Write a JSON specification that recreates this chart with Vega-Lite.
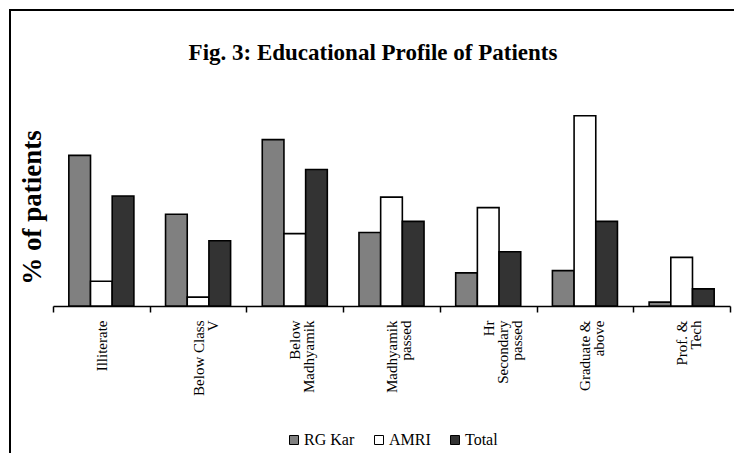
{
  "$schema": "https://vega.github.io/schema/vega-lite/v6.json",
  "autosize": {"type": "none"},
  "padding": {"left": 10, "top": 10, "right": -6, "bottom": -6},
  "width": 730,
  "height": 449,
  "background": "white",
  "title": {
    "text": "Fig. 3: Educational Profile of Patients",
    "font": "Liberation Serif",
    "fontSize": 23,
    "fontWeight": "bold",
    "color": "black",
    "anchor": "middle",
    "frame": "group",
    "baseline": "alphabetic",
    "offset": -73,
    "dx": -2
  },
  "data": {
    "values": [
      {"level": "Illiterate", "site": "RG Kar", "pct": 27.25},
      {"level": "Illiterate", "site": "AMRI", "pct": 4.47},
      {"level": "Illiterate", "site": "Total", "pct": 19.9},
      {"level": "Below Class V", "site": "RG Kar", "pct": 16.6},
      {"level": "Below Class V", "site": "AMRI", "pct": 1.6},
      {"level": "Below Class V", "site": "Total", "pct": 11.8},
      {"level": "Below Madhyamik", "site": "RG Kar", "pct": 30.1},
      {"level": "Below Madhyamik", "site": "AMRI", "pct": 13.1},
      {"level": "Below Madhyamik", "site": "Total", "pct": 24.7},
      {"level": "Madhyamik passed", "site": "RG Kar", "pct": 13.3},
      {"level": "Madhyamik passed", "site": "AMRI", "pct": 19.7},
      {"level": "Madhyamik passed", "site": "Total", "pct": 15.3},
      {"level": "Hr Secondary passed", "site": "RG Kar", "pct": 6.0},
      {"level": "Hr Secondary passed", "site": "AMRI", "pct": 17.8},
      {"level": "Hr Secondary passed", "site": "Total", "pct": 9.8},
      {"level": "Graduate & above", "site": "RG Kar", "pct": 6.4},
      {"level": "Graduate & above", "site": "AMRI", "pct": 34.4},
      {"level": "Graduate & above", "site": "Total", "pct": 15.3},
      {"level": "Prof. & Tech", "site": "RG Kar", "pct": 0.7},
      {"level": "Prof. & Tech", "site": "AMRI", "pct": 8.8},
      {"level": "Prof. & Tech", "site": "Total", "pct": 3.1}
    ]
  },
  "mark": {"type": "bar", "stroke": "black", "strokeWidth": 1.6},
  "encoding": {
    "x": {
      "field": "level",
      "type": "nominal",
      "sort": null,
      "scale": {"range": [43, 720], "paddingInner": 0, "paddingOuter": 0},
      "axis": {
        "title": null,
        "offset": -153,
        "labelAngle": -90,
        "labelFont": "Liberation Serif",
        "labelFontSize": 15,
        "labelColor": "black",
        "labelPadding": 8,
        "labelLineHeight": 14,
        "labelLimit": 200,
        "tickBand": "extent",
        "tickSize": 6,
        "tickColor": "black",
        "tickWidth": 1.5,
        "domainColor": "black",
        "domainWidth": 1.5,
        "grid": false,
        "labelExpr": "datum.label == 'Below Class V' ? ['Below Class', 'V'] : datum.label == 'Below Madhyamik' ? ['Below', 'Madhyamik'] : datum.label == 'Madhyamik passed' ? ['Madhyamik', 'passed'] : datum.label == 'Hr Secondary passed' ? ['Hr', 'Secondary', 'passed'] : datum.label == 'Graduate & above' ? ['Graduate &', 'above'] : datum.label == 'Prof. & Tech' ? ['Prof. &', 'Tech'] : datum.label"
      }
    },
    "xOffset": {
      "field": "site",
      "type": "nominal",
      "sort": ["RG Kar", "AMRI", "Total"],
      "scale": {"paddingInner": 0, "paddingOuter": 0.73}
    },
    "y": {
      "field": "pct",
      "type": "quantitative",
      "stack": null,
      "scale": {"domain": [0, 35], "range": [296, 102.5], "nice": false, "zero": true},
      "axis": {
        "title": "% of patients",
        "titleFont": "Liberation Serif",
        "titleFontSize": 27,
        "titleFontWeight": "bold",
        "titleColor": "black",
        "titleX": 30,
        "titleY": 197,
        "titleAngle": -90,
        "titleAlign": "center",
        "titleBaseline": "alphabetic",
        "domain": false,
        "ticks": false,
        "labels": false,
        "grid": false
      }
    },
    "color": {
      "field": "site",
      "type": "nominal",
      "sort": ["RG Kar", "AMRI", "Total"],
      "scale": {"domain": ["RG Kar", "AMRI", "Total"], "range": ["#808080", "#ffffff", "#333333"]},
      "legend": {
        "title": null,
        "orient": "none",
        "direction": "horizontal",
        "legendX": 276,
        "legendY": 422,
        "symbolType": "square",
        "symbolSize": 81,
        "symbolStrokeColor": "black",
        "symbolStrokeWidth": 1,
        "symbolOpacity": 1,
        "labelFont": "Liberation Serif",
        "labelFontSize": 16,
        "labelColor": "black",
        "labelOffset": 2,
        "columnPadding": 16
      }
    }
  },
  "config": {
    "view": {"stroke": "black", "strokeWidth": 2},
    "legend": {"labelFont": "Liberation Serif", "labelFontSize": 16, "labelColor": "black"}
  }
}
